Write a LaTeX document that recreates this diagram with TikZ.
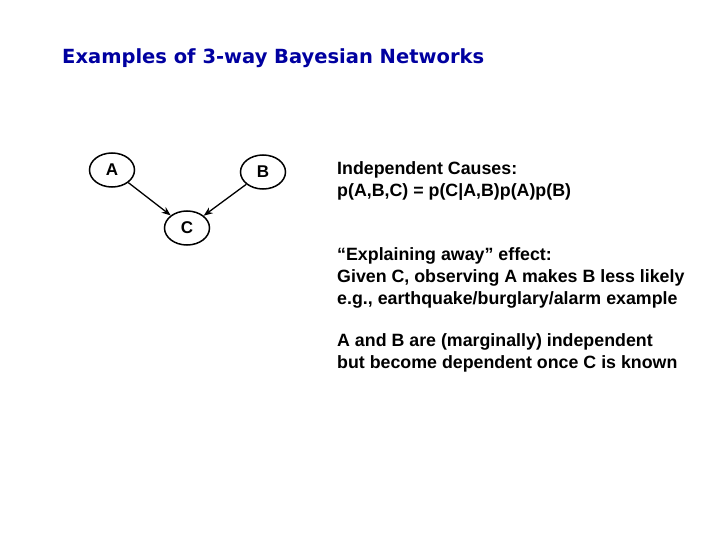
\documentclass[tikz,border=0pt]{standalone}
\usepackage{fontspec}
\setmainfont{Liberation Sans}
\newfontfamily\titlefont{DejaVu Sans}
\usetikzlibrary{shapes.geometric,arrows.meta}
\definecolor{titleblue}{RGB}{0,0,160}
\tikzset{
  var/.style={ellipse,draw,line width=1.5pt,minimum width=45pt,minimum height=34pt,inner sep=0pt,font=\bfseries\fontsize{17}{20}\selectfont},
  edge/.style={line width=1.3pt,-{Stealth[length=9pt,width=7pt]}},
  txt/.style={anchor=north west,align=left,font=\bfseries\fontsize{17.8}{22}\selectfont,inner sep=0pt}
}
\begin{document}
\begin{tikzpicture}[x=1pt,y=-1pt]
\useasboundingbox (0,0) rectangle (720,540);
\node[anchor=west,inner sep=0pt,text=titleblue,font=\titlefont\bfseries\fontsize{19.5}{22}\selectfont] (title) at (62,58) {Examples of 3-way Bayesian Networks};
\node[var] (a) at (112,170) {A};
\node[var] (b) at (263,172) {B};
\node[var] (c) at (187,228) {C};
\draw[edge] (a) -- (c);
\draw[edge] (b) -- (c);
\node[txt] (t1) at (337,161) {Independent Causes:\\p(A,B,C) = p(C|A,B)p(A)p(B)};
\node[txt] (t2) at (337,247) {“Explaining away” effect:\\Given C, observing A makes B less likely\\e.g., earthquake/burglary/alarm example};
\node[txt] (t3) at (337,333) {A and B are (marginally) independent\\but become dependent once C is known};
\end{tikzpicture}
\end{document}
